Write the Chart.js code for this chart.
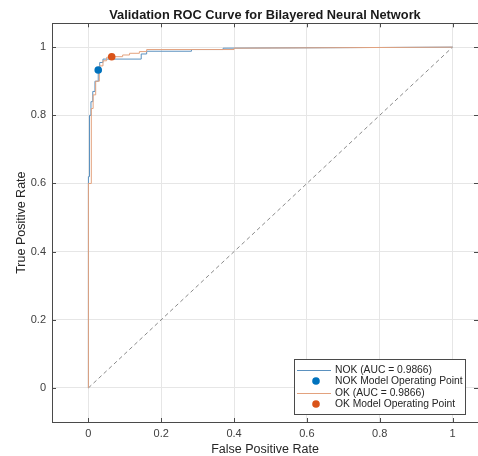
<!DOCTYPE html>
<html><head><meta charset="utf-8">
<script src="https://cdn.jsdelivr.net/npm/chart.js@4/dist/chart.umd.min.js"></script>
<style>html,body{margin:0;padding:0;background:#fff;} canvas{display:block;}</style>
</head><body>
<canvas id="c" width="478" height="456"></canvas>
<script>
const chartTitle = 'Validation ROC Curve for Bilayered Neural Network';
const xAxisTitle = 'False Positive Rate';
const yAxisTitle = 'True Positive Rate';
const tickValues = [0, 0.2, 0.4, 0.6, 0.8, 1];
const tickLabels = ['0', '0.2', '0.4', '0.6', '0.8', '1'];
const axisMin = -0.1, axisMax = 1.07;

const nokFPR = [0, 0, 0.003, 0.003, 0.007, 0.007, 0.012, 0.012, 0.018, 0.018, 0.027, 0.027, 0.031, 0.031, 0.04, 0.04, 0.145, 0.145, 0.16, 0.16, 0.283, 0.283, 0.37, 0.37, 1];
const nokTPR = [0, 0.62, 0.62, 0.80, 0.80, 0.84, 0.84, 0.87, 0.87, 0.90, 0.90, 0.933, 0.933, 0.955, 0.955, 0.965, 0.965, 0.98, 0.98, 0.988, 0.988, 0.993, 0.993, 0.997, 1];
const okFPR = [0, 0, 0.008, 0.008, 0.013, 0.013, 0.02, 0.02, 0.03, 0.03, 0.04, 0.04, 0.05, 0.05, 0.064, 0.094, 0.094, 0.113, 0.113, 0.14, 0.14, 0.16, 0.16, 0.40, 0.40, 1];
const okTPR = [0, 0.60, 0.60, 0.82, 0.82, 0.86, 0.86, 0.90, 0.90, 0.945, 0.945, 0.96, 0.96, 0.97, 0.972, 0.972, 0.977, 0.977, 0.982, 0.982, 0.987, 0.987, 0.993, 0.993, 0.997, 1];
const nokOperatingPoint = [0.027, 0.933];
const okOperatingPoint = [0.064, 0.972];
const chanceFPR = [0, 1];
const chanceTPR = [0, 1];
const seriesLabels = ['NOK (AUC = 0.9866)', 'NOK Model Operating Point', 'OK (AUC = 0.9866)', 'OK Model Operating Point'];

const FONT = '"Liberation Sans", Arial, sans-serif';
Chart.defaults.font.family = FONT;
const AXIS_COLOR = '#4a4a4a';
const GRID_COLOR = '#e6e6e6';

function pts(xs, ys) { return xs.map((x, i) => ({ x: x, y: ys[i] })); }
function noPad(s) { s.paddingLeft = 0; s.paddingRight = 0; s.paddingTop = 0; s.paddingBottom = 0; }

const innerTicks = {
  id: 'innerTicks',
  afterDraw(chart) {
    const { ctx, chartArea: a, scales } = chart;
    const x = scales.x, y = scales.y;
    ctx.save();
    ctx.strokeStyle = AXIS_COLOR; ctx.lineWidth = 1;
    ctx.beginPath();
    tickValues.forEach(v => {
      const px = Math.round(x.getPixelForValue(v)) + 0.5;
      ctx.moveTo(px, a.bottom); ctx.lineTo(px, a.bottom - 4);
      ctx.moveTo(px, a.top); ctx.lineTo(px, a.top + 4);
      const py = Math.round(y.getPixelForValue(v)) + 0.5;
      ctx.moveTo(a.left, py); ctx.lineTo(a.left + 4, py);
      ctx.moveTo(a.right, py); ctx.lineTo(a.right - 4, py);
    });
    ctx.stroke();
    ctx.restore();
  }
};

const boxLegend = {
  id: 'boxLegend',
  afterDraw(chart) {
    const ctx = chart.ctx, a = chart.chartArea;
    const entries = chart.data.datasets.filter(d => d.legendIndex !== undefined)
      .sort((p, q) => p.legendIndex - q.legendIndex);
    const w = 171, h = 55;
    const right = a.right - 13, bottom = a.bottom - 8;
    const left = Math.round(right - w), top = Math.round(bottom - h);
    ctx.save();
    ctx.fillStyle = '#fff';
    ctx.fillRect(left, top, w, h);
    ctx.strokeStyle = AXIS_COLOR; ctx.lineWidth = 1;
    ctx.strokeRect(left + 0.5, top + 0.5, w, h);
    ctx.font = '10.3px ' + FONT;
    ctx.textBaseline = 'middle';
    entries.forEach((d, i) => {
      const yy = top + 10.5 + i * 11.5;
      if (d.showLine) {
        ctx.strokeStyle = d.borderColor; ctx.lineWidth = 1;
        ctx.beginPath(); ctx.moveTo(left + 3, Math.round(yy) + 0.5); ctx.lineTo(left + 37, Math.round(yy) + 0.5); ctx.stroke();
      } else {
        ctx.fillStyle = d.pointBackgroundColor;
        ctx.beginPath(); ctx.arc(left + 22, yy, d.pointRadius, 0, Math.PI * 2); ctx.fill();
      }
      ctx.fillStyle = '#262626';
      ctx.fillText(d.label, left + 41, yy + 0.5);
    });
    ctx.restore();
  }
};

new Chart(document.getElementById('c'), {
  type: 'scatter',
  data: {
    datasets: [
      { label: seriesLabels[3], legendIndex: 3, data: [{ x: okOperatingPoint[0], y: okOperatingPoint[1] }],
        pointRadius: 3.8, pointBackgroundColor: '#D95319', pointBorderWidth: 0, order: 0 },
      { label: seriesLabels[1], legendIndex: 1, data: [{ x: nokOperatingPoint[0], y: nokOperatingPoint[1] }],
        pointRadius: 3.8, pointBackgroundColor: '#0072BD', pointBorderWidth: 0, order: 1 },
      { label: seriesLabels[2], legendIndex: 2, data: pts(okFPR, okTPR), showLine: true, pointRadius: 0,
        borderColor: '#e3a27e', borderWidth: 1, order: 2 },
      { label: seriesLabels[0], legendIndex: 0, data: pts(nokFPR, nokTPR), showLine: true, pointRadius: 0,
        borderColor: '#5b91bf', borderWidth: 1, order: 3 },
      { label: 'chance', data: pts(chanceFPR, chanceTPR), showLine: true, pointRadius: 0,
        borderColor: '#8a8a8a', borderWidth: 1, borderDash: [4, 3], order: 4 }
    ]
  },
  options: {
    responsive: false,
    animation: false,
    devicePixelRatio: 1,
    layout: { padding: 0, autoPadding: false },
    plugins: { legend: { display: false }, tooltip: { enabled: false }, title: { display: false } },
    scales: {
      x: {
        type: 'linear', position: 'bottom', min: axisMin, max: axisMax,
        afterBuildTicks: s => { s.ticks = tickValues.map(v => ({ value: v })); },
        afterFit: s => { s.height = 34; noPad(s); },
        ticks: { callback: (v, i) => tickLabels[i], font: { size: 11 }, color: '#404040', padding: 5, maxRotation: 0, autoSkip: false },
        grid: { color: GRID_COLOR, drawTicks: false },
        border: { display: true, color: AXIS_COLOR },
        title: { display: true, text: xAxisTitle, font: { size: 12.5, lineHeight: 1 }, color: '#262626', padding: { top: 0, bottom: 0 } }
      },
      xTop: {
        type: 'linear', axis: 'x', position: 'top', min: axisMin, max: axisMax,
        afterFit: s => { s.height = 23.3; noPad(s); },
        ticks: { display: false },
        grid: { drawOnChartArea: false, drawTicks: false },
        border: { display: true, color: AXIS_COLOR },
        title: { display: true, text: chartTitle, font: { size: 12.8, weight: 'bold' }, color: '#1a1a1a', padding: { top: 8, bottom: 1 } }
      },
      y: {
        type: 'linear', position: 'left', min: axisMin, max: axisMax,
        afterBuildTicks: s => { s.ticks = tickValues.map(v => ({ value: v })); },
        afterFit: s => { s.width = 52; noPad(s); },
        ticks: { callback: (v, i) => tickLabels[i], font: { size: 11 }, color: '#404040', padding: 6, autoSkip: false },
        grid: { color: GRID_COLOR, drawTicks: false },
        border: { display: true, color: AXIS_COLOR },
        title: { display: true, text: yAxisTitle, font: { size: 12.5, lineHeight: 1 }, color: '#262626', padding: { top: 15.4, bottom: 0 } }
      }
    }
  },
  plugins: [innerTicks, boxLegend]
});
</script>
</body></html>
